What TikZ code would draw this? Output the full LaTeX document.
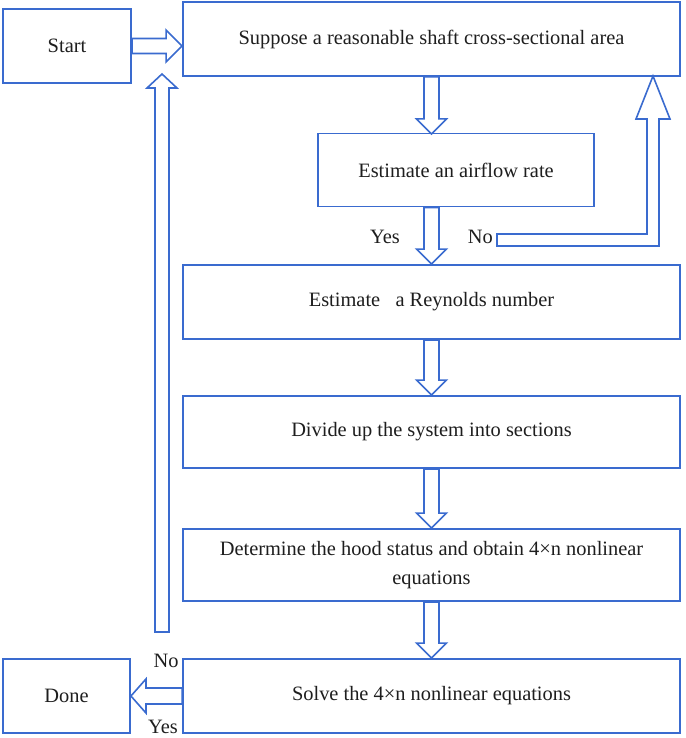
\documentclass[tikz,border=0pt]{standalone}
\usepackage{fontspec}
\setmainfont{Liberation Serif}
\usetikzlibrary{calc}
\definecolor{lineblue}{HTML}{3A6BCF}
\definecolor{txt}{HTML}{1E1E1E}
\tikzset{
  box/.style={draw=lineblue, line width=1.9pt, fill=white, text=txt, inner sep=0pt, align=center, font=\fontsize{20.4}{29}\selectfont},
  blk/.style={draw=lineblue, line width=1.6pt, fill=white, line join=miter},
  lbl/.style={text=txt, font=\fontsize{20.4}{24}\selectfont, inner sep=0pt}
}
% down arrow: from node anchor #1 to node anchor #2 (tip)
\newcommand\dnarrow[2]{%
  \draw[blk] let \p1=(#1), \p2=(#2) in
    ({\x1-7.5pt},{\y1}) -- ({\x1+7.5pt},{\y1}) -- ({\x1+7.5pt},{\y2+15pt}) -- ({\x1+15pt},{\y2+15pt})
    -- ({\x1},{\y2}) -- ({\x1-15pt},{\y2+15pt}) -- ({\x1-7.5pt},{\y2+15pt}) -- cycle;}
\begin{document}
\begin{tikzpicture}[x=1pt,y=-1pt]
\useasboundingbox (0,0) rectangle (685,738);
\node[box, minimum width=128, minimum height=74] (start) at (67,46) {Start};
\node[box, minimum width=497, minimum height=74] (b1) at (431.5,39) {Suppose a reasonable shaft cross-sectional area};
\node[box, minimum width=276, minimum height=73] (b2) at (456,170) {Estimate an airflow rate};
\node[box, minimum width=497, minimum height=74] (b3) at (431.5,302) {Estimate \ \ a Reynolds number};
\node[box, minimum width=497, minimum height=72] (b4) at (431.5,432) {Divide up the system into sections};
\node[box, minimum width=497, minimum height=72] (b5) at (431.5,565) {Determine the hood status and obtain 4×n nonlinear\\equations};
\node[box, minimum width=497, minimum height=74] (b6) at (431.5,696) {Solve the 4×n nonlinear equations};
\node[box, minimum width=127, minimum height=74] (done) at (66.5,696) {Done};

% Start -> b1
\draw[blk] let \p1=(start.east), \p2=(b1.west) in
  ({\x1},{\y1+7.5pt}) -- ({\x2-16pt},{\y1+7.5pt}) -- ({\x2-16pt},{\y1+16pt}) -- ({\x2},{\y1})
  -- ({\x2-16pt},{\y1-16pt}) -- ({\x2-16pt},{\y1-7.5pt}) -- ({\x1},{\y1-7.5pt}) -- cycle;

% vertical down arrows
\coordinate (t2) at ($(b1.south)+(0,57)$);
\dnarrow{b1.south}{t2}
\coordinate (s23) at (b1.south |- b2.south);
\dnarrow{s23}{b3.north}
\dnarrow{b3.south}{b4.north}
\dnarrow{b4.south}{b5.north}
\dnarrow{b5.south}{b6.north}

% No loop back to b1
\coordinate (noend) at (497,240);
\coordinate (notip) at (653,76);
\draw[blk] let \p1=(noend), \p2=(notip) in
  ({\x1},{\y1+6pt}) -- ({\x2-6pt},{\y1+6pt}) -- ({\x2-6pt},{\y2-43pt}) -- ({\x2-17pt},{\y2-43pt})
  -- ({\x2},{\y2}) -- ({\x2+17pt},{\y2-43pt}) -- ({\x2+6pt},{\y2-43pt}) -- ({\x2+6pt},{\y1-6pt})
  -- ({\x1},{\y1-6pt}) -- cycle;
\node[lbl, anchor=east] (no1) at (493,237) {No};
\node[lbl, anchor=east] (yes1) at (400,237) {Yes};

% b6 -> done
\draw[blk] let \p1=(b6.west), \p2=(done.east) in
  ({\x1},{\y1+8pt}) -- ({\x2+15pt},{\y1+8pt}) -- ({\x2+15pt},{\y1+17pt}) -- ({\x2},{\y1})
  -- ({\x2+15pt},{\y1-17pt}) -- ({\x2+15pt},{\y1-8pt}) -- ({\x1},{\y1-8pt}) -- cycle;

% up loop arrow
\coordinate (upbot) at (162,632);
\coordinate (uptip) at (162,74);
\draw[blk] let \p1=(upbot), \p2=(uptip) in
  ({\x1-7pt},{\y1}) -- ({\x1+7pt},{\y1}) -- ({\x1+7pt},{\y2-14pt}) -- ({\x1+15pt},{\y2-14pt})
  -- ({\x2},{\y2}) -- ({\x1-15pt},{\y2-14pt}) -- ({\x1-7pt},{\y2-14pt}) -- cycle;
\node[lbl] (no2) at (166,661) {No};
\node[lbl] (yes2) at (163,727) {Yes};
\end{tikzpicture}
\end{document}
